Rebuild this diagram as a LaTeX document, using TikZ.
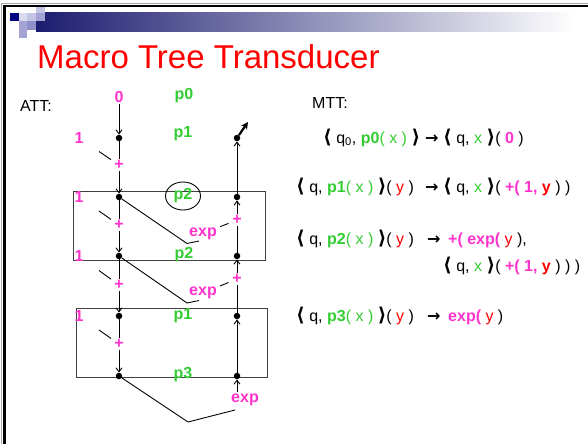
\documentclass[tikz,border=0pt]{standalone}
\usepackage{fontspec}
\setmainfont{Liberation Sans}
\newfontfamily\symfont{DejaVu Sans}
\usetikzlibrary{arrows.meta, shapes.geometric, calc}
\definecolor{attpink}{RGB}{255,51,204}
\definecolor{attgreen}{RGB}{51,204,51}
\definecolor{attred}{RGB}{255,0,0}
\definecolor{barnavy}{RGB}{28,28,112}
\definecolor{sqA}{RGB}{0,0,128}
\definecolor{sqB}{RGB}{218,218,240}
\definecolor{sqC}{RGB}{196,196,228}
\definecolor{sqD}{RGB}{164,164,212}
\definecolor{sqE}{RGB}{144,144,200}
\newcommand\Pk[1]{\textcolor{attpink}{\textbf{#1}}}
\newcommand\Gn[1]{\textcolor{attgreen}{#1}}
\newcommand\Rd[1]{\textcolor{attred}{#1}}
\newcommand\oang{\raisebox{-0.5pt}{\symfont\bfseries\fontsize{19}{19}\selectfont ⟨}}
\newcommand\cang{\raisebox{-0.5pt}{\symfont\bfseries\fontsize{19}{19}\selectfont ⟩}}
\newcommand\yields{{\symfont\bfseries →}}
\tikzset{
  dot/.style={circle, fill=black, inner sep=0pt, minimum size=6.5pt},
  attr/.style={inner sep=1.5pt, text=attpink, font=\fontsize{16}{16}\selectfont\bfseries},
  prod/.style={inner sep=1pt, text=attgreen, font=\fontsize{16}{16}\selectfont\bfseries},
  flow/.style={-{Straight Barb[length=4pt, width=6pt]}, line width=0.9pt},
  link/.style={line width=0.9pt},
  boxline/.style={draw=black!75, line width=1pt},
  mtt/.style={anchor=base west, inner sep=0pt, font=\fontsize{16}{16}\selectfont}
}

\begin{document}
\begin{tikzpicture}[x=1pt, y=-1pt]
\useasboundingbox (0,0) rectangle (588,444);

% slide header
\shade[left color=barnavy, right color=white] (36,13) rectangle (575,31.7);
\fill[sqA] (10,13) rectangle (18.5,21.5);
\fill[sqB] (18.5,13) rectangle (27,21.5);
\fill[sqC] (27,13) rectangle (36,21.5);
\fill[sqC] (36,7) rectangle (45,13);
\fill[sqD] (36,13) rectangle (45,21.5);
\fill[sqD] (18.5,21.5) rectangle (27,30);
\fill[sqE] (27,21.5) rectangle (36,30);
\fill[sqD] (18.5,30) rectangle (27,38.5);
\draw[black!35, line width=1pt] (1.5,444) -- (1.5,3.5) -- (588,3.5);
\draw[line width=2.5pt] (4.5,444) -- (4.5,6) -- (588,6);

\node[anchor=base west, inner sep=0pt, text=attred, font=\fontsize{33}{33}\selectfont] (title) at (37,68) {Macro Tree Transducer};
\node[anchor=base west, inner sep=0pt, font=\fontsize{16}{16}\selectfont] (att) at (20,111) {ATT:};

% boxes of the two rules
\draw[boxline] (73.3,191.5) rectangle (265,260.7);
\draw[boxline] (76,308.3) rectangle (267.7,377.7);

% left spine
\node[attr] (zero) at (119,97) {0};
\node[dot] (l1) at (119,138) {};
\node[dot] (l2) at (119,197) {};
\node[dot] (l3) at (119,256) {};
\node[dot] (l4) at (119,316) {};
\node[dot] (l5) at (119,376) {};
\node[attr] (a1) at (119,165) {+};
\node[attr] (a2) at (119,225) {+};
\node[attr] (a3) at (119,285) {+};
\node[attr] (a4) at (119,344) {+};
\node[attr] (n1) at (79,138) {1};
\node[attr] (n2) at (79,197) {1};
\node[attr] (n3) at (79,256) {1};
\node[attr] (n4) at (79,316) {1};

% right spine
\node[dot] (r1) at (237,138) {};
\node[dot] (r2) at (237,197) {};
\node[dot] (r3) at (237,256) {};
\node[dot] (r4) at (237,316) {};
\node[dot] (r5) at (237,376) {};
\node[attr] (b2) at (237,220) {+};
\node[attr] (b3) at (237,279) {+};
\node[attr] (e2) at (203,233.5) {exp};
\node[attr] (e3) at (203,293) {exp};
\node[attr] (e5) at (245,400) {exp};
\coordinate (e5top) at (237,392);
\coordinate (out) at (248,122);

% production labels
\node[prod] (p0) at (184,96) {p0};
\node[prod] (p1) at (183,134) {p1};
\node[prod, draw=black, line width=0.9pt, ellipse, inner sep=0pt,
      minimum width=35, minimum height=28] (p2) at (183,196) {p2};
\node[prod] (p2b) at (184,255) {p2};
\node[prod] (p1b) at (183,316) {p1};
\node[prod] (p3) at (183,375) {p3};

% inherited flow
\draw[flow] (zero) -- (l1);
\draw[link] (l1) -- (a1);
\draw[flow] (a1) -- (l2);
\draw[link] (l2) -- (a2);
\draw[flow] (a2) -- (l3);
\draw[link] (l3) -- (a3);
\draw[flow] (a3) -- (l4);
\draw[link] (l4) -- (a4);
\draw[flow] (a4) -- (l5);
\draw[link] ($(n1)!0.5!(a1)$) -- ($(n1)!0.8!(a1)$);
\draw[link] ($(n2)!0.5!(a2)$) -- ($(n2)!0.8!(a2)$);
\draw[link] ($(n3)!0.5!(a3)$) -- ($(n3)!0.8!(a3)$);
\draw[link] ($(n4)!0.5!(a4)$) -- ($(n4)!0.8!(a4)$);

% synthesized flow
\draw[flow] (r2) -- (r1);
\draw[link] (r3) -- (b2);
\draw[flow] (b2) -- (r2);
\draw[link] (r4) -- (b3);
\draw[flow] (b3) -- (r3);
\draw[flow] (r5) -- (r4);
\draw[flow] (e5top) -- (r5);
\draw[line width=2.2pt, -{Stealth[length=7pt, width=7pt]}] (r1) -- (out);
\draw[link] ($(e2)!0.5!(b2)$) -- ($(e2)!0.75!(b2)$);
\draw[link] ($(e3)!0.5!(b3)$) -- ($(e3)!0.75!(b3)$);
\draw[link] (l2) -- ($(e2)+(-16,10)$) -- ($(e2)+(-4,7.5)$);
\draw[link] (l3) -- ($(e3)+(-16,10)$) -- ($(e3)+(-4,7.5)$);
\draw[link] (l5) -- ($(e5)+(-57,22)$) -- ($(e5)+(-10,10)$);

% MTT rules
\node[mtt] (mtthead) at (312,108.5) {MTT:};
\node[mtt] (lhs1) at (323,143) {\oang\ q\textsubscript{0}, \Gn{\textbf{p0}( x )} \cang};
\node[mtt] (to1) at (425,143) {\yields};
\node[mtt] (rhs1) at (443,143) {\oang\ q, \Gn{x} \cang( \Pk{0} )};
\node[mtt] (lhs2) at (296,192) {\oang\ q, \Gn{\textbf{p1}( x )} \cang( \Rd{y} )};
\node[mtt] (to2) at (425,192) {\yields};
\node[mtt] (rhs2) at (443,192) {\oang\ q, \Gn{x} \cang( \Pk{+( 1,} \Rd{\textbf{y}} ) )};
\node[mtt] (lhs3) at (296,244) {\oang\ q, \Gn{\textbf{p2}( x )} \cang( \Rd{y} )};
\node[mtt] (to3) at (427,244) {\yields};
\node[mtt] (rhs3) at (448,244) {\Pk{+( exp(} \Rd{y} ),};
\node[mtt] (rhs3b) at (443,271) {\oang\ q, \Gn{x} \cang( \Pk{+( 1,} \Rd{\textbf{y}} ) ) )};
\node[mtt] (lhs5) at (296,321) {\oang\ q, \Gn{\textbf{p3}( x )} \cang( \Rd{y} )};
\node[mtt] (to5) at (427,321) {\yields};
\node[mtt] (rhs5) at (448,321) {\Pk{exp(} \Rd{y} )};

\end{tikzpicture}
\end{document}
